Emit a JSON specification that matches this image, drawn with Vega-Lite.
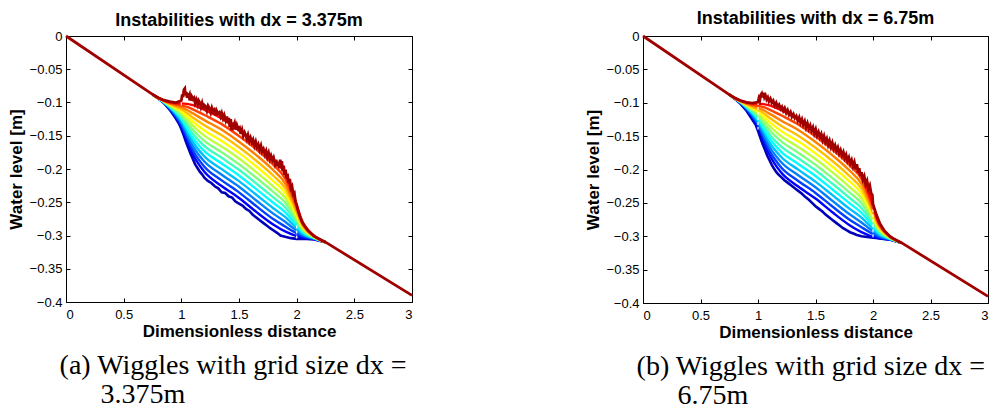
{
 "$schema": "https://vega.github.io/schema/vega-lite/v6.json",
 "background": "white",
 "padding": {"left": 6, "top": 9, "right": 0, "bottom": 0},
 "config": {
  "view": {"stroke": "#000", "strokeWidth": 1},
  "axis": {"domain": false, "grid": false, "tickColor": "#000", "tickSize": -4, "labelFont": "Liberation Sans", "labelFontSize": 13, "labelColor": "#000", "titleFont": "Liberation Sans", "titleFontSize": 17, "titleColor": "#000", "titleFontWeight": "bold"},
  "title": {"font": "Liberation Sans", "fontSize": 18, "fontWeight": "bold", "color": "#000"}
 },
 "datasets": {
  "smooth": [
   {"x":0.75,"c01":-0.0878,"c02":-0.0878,"c03":-0.0878,"c04":-0.0878,"c05":-0.0878,"c06":-0.0878,"c07":-0.0878,"c08":-0.0878,"c09":-0.0878,"c10":-0.0878,"c11":-0.0878,"c12":-0.0878,"c13":-0.0878},
   {"x":0.80,"c01":-0.0939,"c02":-0.0938,"c03":-0.0938,"c04":-0.0937,"c05":-0.0936,"c06":-0.0935,"c07":-0.0935,"c08":-0.0934,"c09":-0.0933,"c10":-0.0932,"c11":-0.0932,"c12":-0.0931,"c13":-0.093},
   {"x":0.85,"c01":-0.1007,"c02":-0.1004,"c03":-0.1001,"c04":-0.0998,"c05":-0.0995,"c06":-0.0992,"c07":-0.0988,"c08":-0.0985,"c09":-0.0982,"c10":-0.0979,"c11":-0.0976,"c12":-0.0973,"c13":-0.097},
   {"x":0.90,"c01":-0.1101,"c02":-0.1092,"c03":-0.1083,"c04":-0.1075,"c05":-0.1066,"c06":-0.1057,"c07":-0.1048,"c08":-0.1039,"c09":-0.103,"c10":-0.1022,"c11":-0.1013,"c12":-0.1004,"c13":-0.0995},
   {"x":0.95,"c01":-0.1213,"c02":-0.1196,"c03":-0.1179,"c04":-0.1162,"c05":-0.1145,"c06":-0.1128,"c07":-0.1112,"c08":-0.1095,"c09":-0.1078,"c10":-0.1061,"c11":-0.1044,"c12":-0.1027,"c13":-0.101},
   {"x":1.00,"c01":-0.1361,"c02":-0.1332,"c03":-0.1303,"c04":-0.1275,"c05":-0.1246,"c06":-0.1217,"c07":-0.1188,"c08":-0.1159,"c09":-0.113,"c10":-0.1102,"c11":-0.1073,"c12":-0.1044,"c13":-0.1015},
   {"x":1.05,"c01":-0.1574,"c02":-0.1528,"c03":-0.1482,"c04":-0.1435,"c05":-0.1389,"c06":-0.1343,"c07":-0.1297,"c08":-0.1251,"c09":-0.1205,"c10":-0.1158,"c11":-0.1112,"c12":-0.1066,"c13":-0.102},
   {"x":1.10,"c01":-0.1778,"c02":-0.1717,"c03":-0.1655,"c04":-0.1594,"c05":-0.1532,"c06":-0.1471,"c07":-0.1409,"c08":-0.1348,"c09":-0.1286,"c10":-0.1225,"c11":-0.1163,"c12":-0.1102,"c13":-0.104},
   {"x":1.20,"c01":-0.2042,"c02":-0.1965,"c03":-0.1887,"c04":-0.1809,"c05":-0.1732,"c06":-0.1654,"c07":-0.1576,"c08":-0.1498,"c09":-0.1421,"c10":-0.1343,"c11":-0.1265,"c12":-0.1188,"c13":-0.111},
   {"x":1.35,"c01":-0.2255,"c02":-0.2171,"c03":-0.2086,"c04":-0.2002,"c05":-0.1917,"c06":-0.1832,"c07":-0.1748,"c08":-0.1663,"c09":-0.1578,"c10":-0.1494,"c11":-0.1409,"c12":-0.1325,"c13":-0.124},
   {"x":1.50,"c01":-0.2435,"c02":-0.2351,"c03":-0.2266,"c04":-0.2182,"c05":-0.2097,"c06":-0.2012,"c07":-0.1928,"c08":-0.1843,"c09":-0.1758,"c10":-0.1674,"c11":-0.1589,"c12":-0.1505,"c13":-0.142},
   {"x":1.65,"c01":-0.2645,"c02":-0.2559,"c03":-0.2474,"c04":-0.2388,"c05":-0.2303,"c06":-0.2218,"c07":-0.2132,"c08":-0.2047,"c09":-0.1962,"c10":-0.1876,"c11":-0.1791,"c12":-0.1705,"c13":-0.162},
   {"x":1.80,"c01":-0.2838,"c02":-0.2757,"c03":-0.2675,"c04":-0.2594,"c05":-0.2512,"c06":-0.2431,"c07":-0.2349,"c08":-0.2268,"c09":-0.2186,"c10":-0.2105,"c11":-0.2023,"c12":-0.1942,"c13":-0.186},
   {"x":1.90,"c01":-0.2938,"c02":-0.2865,"c03":-0.2793,"c04":-0.2721,"c05":-0.2648,"c06":-0.2576,"c07":-0.2504,"c08":-0.2432,"c09":-0.2359,"c10":-0.2287,"c11":-0.2215,"c12":-0.2142,"c13":-0.207},
   {"x":1.97,"c01":-0.2989,"c02":-0.2938,"c03":-0.2888,"c04":-0.2837,"c05":-0.2786,"c06":-0.2735,"c07":-0.2685,"c08":-0.2634,"c09":-0.2583,"c10":-0.2532,"c11":-0.2482,"c12":-0.2431,"c13":-0.238},
   {"x":2.05,"c01":-0.303,"c02":-0.301,"c03":-0.299,"c04":-0.297,"c05":-0.295,"c06":-0.293,"c07":-0.291,"c08":-0.289,"c09":-0.287,"c10":-0.285,"c11":-0.283,"c12":-0.281,"c13":-0.279},
   {"x":2.15,"c01":-0.3055,"c02":-0.3051,"c03":-0.3046,"c04":-0.3042,"c05":-0.3037,"c06":-0.3032,"c07":-0.3028,"c08":-0.3023,"c09":-0.3018,"c10":-0.3014,"c11":-0.3009,"c12":-0.3005,"c13":-0.300},
   {"x":2.25,"c01":-0.310,"c02":-0.310,"c03":-0.310,"c04":-0.310,"c05":-0.310,"c06":-0.310,"c07":-0.310,"c08":-0.310,"c09":-0.310,"c10":-0.310,"c11":-0.310,"c12":-0.310,"c13":-0.310}
  ],
  "blueA": [
   {"x":0.75,"y":-0.0878},{"x":0.80,"y":-0.0940},{"x":0.85,"y":-0.1010},{"x":0.90,"y":-0.1110},{"x":0.95,"y":-0.1235},{"x":0.98,"y":-0.1320},{"x":1.00,"y":-0.1400},{"x":1.02,"y":-0.1490},{"x":1.04,"y":-0.1590},{"x":1.06,"y":-0.1680},{"x":1.08,"y":-0.1770},{"x":1.10,"y":-0.1850},{"x":1.12,"y":-0.1930},{"x":1.14,"y":-0.1985},{"x":1.16,"y":-0.2040},{"x":1.18,"y":-0.2080},{"x":1.20,"y":-0.2130},{"x":1.23,"y":-0.2180},{"x":1.26,"y":-0.2210},{"x":1.29,"y":-0.2260},{"x":1.32,"y":-0.2290},{"x":1.35,"y":-0.2350},{"x":1.38,"y":-0.2360},{"x":1.41,"y":-0.2410},{"x":1.44,"y":-0.2430},{"x":1.47,"y":-0.2490},{"x":1.50,"y":-0.2520},{"x":1.53,"y":-0.2550},{"x":1.56,"y":-0.2600},{"x":1.59,"y":-0.2630},{"x":1.62,"y":-0.2690},{"x":1.65,"y":-0.2730},{"x":1.68,"y":-0.2770},{"x":1.71,"y":-0.2810},{"x":1.74,"y":-0.2850},{"x":1.77,"y":-0.2890},{"x":1.80,"y":-0.2925},{"x":1.83,"y":-0.2960},{"x":1.86,"y":-0.3000},{"x":1.90,"y":-0.3020},{"x":1.95,"y":-0.3040},{"x":2.00,"y":-0.3050},{"x":2.05,"y":-0.3050},{"x":2.15,"y":-0.3060},{"x":2.25,"y":-0.3100}
  ],
  "redA": [
   {"x":0,"y":0},{"x":0.75,"y":-0.0878},{"x":0.80,"y":-0.0928},{"x":0.85,"y":-0.0965},{"x":0.90,"y":-0.0988},{"x":0.95,"y":-0.1003},{"x":1.000,"y":-0.097},{"x":1.008,"y":-0.088},{"x":1.015,"y":-0.092},{"x":1.022,"y":-0.081},{"x":1.030,"y":-0.079},{"x":1.036,"y":-0.089},{"x":1.043,"y":-0.084},{"x":1.050,"y":-0.093},{"x":1.058,"y":-0.086},{"x":1.065,"y":-0.091},{"x":1.072,"y":-0.088},{"x":1.080,"y":-0.097},{"x":1.090,"y":-0.091},{"x":1.100,"y":-0.095},{"x":1.110,"y":-0.093},{"x":1.120,"y":-0.101},{"x":1.130,"y":-0.096},{"x":1.142,"y":-0.103},{"x":1.150,"y":-0.097},{"x":1.160,"y":-0.100},{"x":1.170,"y":-0.107},{"x":1.180,"y":-0.101},{"x":1.192,"y":-0.110},{"x":1.200,"y":-0.104},{"x":1.212,"y":-0.106},{"x":1.222,"y":-0.112},{"x":1.232,"y":-0.105},{"x":1.245,"y":-0.109},{"x":1.255,"y":-0.115},{"x":1.265,"y":-0.108},{"x":1.275,"y":-0.113},{"x":1.285,"y":-0.111},{"x":1.295,"y":-0.119},{"x":1.305,"y":-0.112},{"x":1.318,"y":-0.117},{"x":1.330,"y":-0.115},{"x":1.340,"y":-0.121},{"x":1.350,"y":-0.116},{"x":1.362,"y":-0.124},{"x":1.372,"y":-0.119},{"x":1.385,"y":-0.127},{"x":1.395,"y":-0.121},{"x":1.405,"y":-0.130},{"x":1.412,"y":-0.123},{"x":1.420,"y":-0.137},{"x":1.428,"y":-0.125},{"x":1.436,"y":-0.142},{"x":1.444,"y":-0.130},{"x":1.452,"y":-0.136},{"x":1.462,"y":-0.131},{"x":1.472,"y":-0.141},{"x":1.482,"y":-0.134},{"x":1.494,"y":-0.140},{"x":1.505,"y":-0.138},{"x":1.515,"y":-0.147},{"x":1.526,"y":-0.141},{"x":1.537,"y":-0.150},{"x":1.548,"y":-0.145},{"x":1.558,"y":-0.149},{"x":1.568,"y":-0.155},{"x":1.578,"y":-0.149},{"x":1.590,"y":-0.158},{"x":1.600,"y":-0.153},{"x":1.612,"y":-0.160},{"x":1.622,"y":-0.156},{"x":1.634,"y":-0.165},{"x":1.645,"y":-0.159},{"x":1.656,"y":-0.167},{"x":1.667,"y":-0.163},{"x":1.678,"y":-0.171},{"x":1.690,"y":-0.165},{"x":1.700,"y":-0.174},{"x":1.712,"y":-0.170},{"x":1.724,"y":-0.178},{"x":1.735,"y":-0.173},{"x":1.746,"y":-0.182},{"x":1.757,"y":-0.176},{"x":1.768,"y":-0.185},{"x":1.778,"y":-0.180},{"x":1.790,"y":-0.187},{"x":1.800,"y":-0.183},{"x":1.812,"y":-0.192},{"x":1.822,"y":-0.186},{"x":1.832,"y":-0.196},{"x":1.842,"y":-0.189},{"x":1.850,"y":-0.199},{"x":1.857,"y":-0.186},{"x":1.864,"y":-0.194},{"x":1.871,"y":-0.188},{"x":1.879,"y":-0.203},{"x":1.887,"y":-0.195},{"x":1.895,"y":-0.209},{"x":1.903,"y":-0.201},{"x":1.912,"y":-0.214},{"x":1.920,"y":-0.207},{"x":1.930,"y":-0.221},{"x":1.940,"y":-0.215},{"x":1.950,"y":-0.229},{"x":1.960,"y":-0.226},{"x":1.970,"y":-0.238},{"x":1.980,"y":-0.236},{"x":1.990,"y":-0.249},{"x":2.000,"y":-0.254},{"x":2.015,"y":-0.264},{"x":2.030,"y":-0.272},{"x":2.050,"y":-0.281},{"x":2.100,"y":-0.293},{"x":2.150,"y":-0.301},{"x":2.250,"y":-0.310},{"x":3.000,"y":-0.390}
  ],
  "blueB": [
   {"x":0.75,"y":-0.0878},{"x":0.80,"y":-0.0945},{"x":0.85,"y":-0.1020},{"x":0.90,"y":-0.1120},{"x":0.95,"y":-0.1250},{"x":0.98,"y":-0.1330},{"x":1.00,"y":-0.1420},{"x":1.02,"y":-0.1520},{"x":1.04,"y":-0.1620},{"x":1.06,"y":-0.1700},{"x":1.08,"y":-0.1790},{"x":1.10,"y":-0.1860},{"x":1.12,"y":-0.1930},{"x":1.14,"y":-0.1990},{"x":1.16,"y":-0.2040},{"x":1.18,"y":-0.2080},{"x":1.20,"y":-0.2110},{"x":1.23,"y":-0.2160},{"x":1.26,"y":-0.2200},{"x":1.29,"y":-0.2240},{"x":1.32,"y":-0.2280},{"x":1.35,"y":-0.2320},{"x":1.38,"y":-0.2360},{"x":1.41,"y":-0.2410},{"x":1.44,"y":-0.2450},{"x":1.47,"y":-0.2500},{"x":1.50,"y":-0.2550},{"x":1.53,"y":-0.2590},{"x":1.56,"y":-0.2630},{"x":1.59,"y":-0.2680},{"x":1.62,"y":-0.2720},{"x":1.65,"y":-0.2760},{"x":1.68,"y":-0.2800},{"x":1.71,"y":-0.2840},{"x":1.74,"y":-0.2880},{"x":1.77,"y":-0.2910},{"x":1.80,"y":-0.2940},{"x":1.83,"y":-0.2960},{"x":1.86,"y":-0.2980},{"x":1.90,"y":-0.3000},{"x":1.95,"y":-0.3010},{"x":2.00,"y":-0.3020},{"x":2.05,"y":-0.3030},{"x":2.15,"y":-0.3050},{"x":2.25,"y":-0.3100}
  ],
  "redB": [
   {"x":0,"y":0},{"x":0.75,"y":-0.0878},{"x":0.80,"y":-0.0930},{"x":0.85,"y":-0.0970},{"x":0.90,"y":-0.0995},{"x":0.95,"y":-0.1005},{"x":1.000,"y":-0.099},{"x":1.008,"y":-0.093},{"x":1.016,"y":-0.096},{"x":1.024,"y":-0.088},{"x":1.032,"y":-0.086},{"x":1.040,"y":-0.092},{"x":1.048,"y":-0.085},{"x":1.056,"y":-0.092},{"x":1.065,"y":-0.089},{"x":1.075,"y":-0.095},{"x":1.085,"y":-0.092},{"x":1.095,"y":-0.098},{"x":1.108,"y":-0.094},{"x":1.120,"y":-0.100},{"x":1.132,"y":-0.097},{"x":1.145,"y":-0.104},{"x":1.158,"y":-0.100},{"x":1.170,"y":-0.106},{"x":1.183,"y":-0.103},{"x":1.196,"y":-0.109},{"x":1.208,"y":-0.106},{"x":1.220,"y":-0.112},{"x":1.232,"y":-0.108},{"x":1.245,"y":-0.115},{"x":1.257,"y":-0.111},{"x":1.270,"y":-0.118},{"x":1.283,"y":-0.114},{"x":1.295,"y":-0.121},{"x":1.308,"y":-0.117},{"x":1.320,"y":-0.123},{"x":1.333,"y":-0.120},{"x":1.346,"y":-0.127},{"x":1.358,"y":-0.122},{"x":1.370,"y":-0.130},{"x":1.382,"y":-0.125},{"x":1.394,"y":-0.133},{"x":1.406,"y":-0.128},{"x":1.418,"y":-0.137},{"x":1.430,"y":-0.131},{"x":1.442,"y":-0.139},{"x":1.454,"y":-0.134},{"x":1.466,"y":-0.142},{"x":1.478,"y":-0.137},{"x":1.490,"y":-0.146},{"x":1.502,"y":-0.140},{"x":1.514,"y":-0.149},{"x":1.526,"y":-0.144},{"x":1.538,"y":-0.152},{"x":1.550,"y":-0.147},{"x":1.562,"y":-0.156},{"x":1.574,"y":-0.150},{"x":1.586,"y":-0.159},{"x":1.598,"y":-0.154},{"x":1.610,"y":-0.163},{"x":1.622,"y":-0.157},{"x":1.634,"y":-0.166},{"x":1.646,"y":-0.160},{"x":1.658,"y":-0.169},{"x":1.670,"y":-0.164},{"x":1.682,"y":-0.172},{"x":1.694,"y":-0.167},{"x":1.706,"y":-0.176},{"x":1.718,"y":-0.171},{"x":1.730,"y":-0.179},{"x":1.742,"y":-0.174},{"x":1.754,"y":-0.183},{"x":1.766,"y":-0.178},{"x":1.778,"y":-0.187},{"x":1.790,"y":-0.182},{"x":1.802,"y":-0.191},{"x":1.814,"y":-0.186},{"x":1.826,"y":-0.195},{"x":1.838,"y":-0.189},{"x":1.850,"y":-0.200},{"x":1.860,"y":-0.192},{"x":1.870,"y":-0.205},{"x":1.880,"y":-0.198},{"x":1.890,"y":-0.210},{"x":1.900,"y":-0.204},{"x":1.912,"y":-0.215},{"x":1.924,"y":-0.210},{"x":1.936,"y":-0.222},{"x":1.948,"y":-0.217},{"x":1.960,"y":-0.229},{"x":1.972,"y":-0.224},{"x":1.984,"y":-0.236},{"x":1.994,"y":-0.238},{"x":2.000,"y":-0.252},{"x":2.030,"y":-0.268},{"x":2.060,"y":-0.281},{"x":2.100,"y":-0.292},{"x":2.150,"y":-0.301},{"x":2.250,"y":-0.310},{"x":3.000,"y":-0.390}
  ],
  "dashA": [{"x":1,"y":-0.092,"y2":-0.104},{"x":2,"y":-0.285,"y2":-0.305}],
  "dashB": [{"x":1,"y":-0.099,"y2":-0.140},{"x":2,"y":-0.252,"y2":-0.302}]
 },
 "spacing": 164,
 "hconcat": [
  {
   "title": {"text": "3.375m", "orient": "bottom", "anchor": "start", "font": "Liberation Serif", "fontSize": 28, "fontWeight": "normal", "dx": 94, "offset": 1},
   "vconcat": [
    {
     "title": {"text": "(a) Wiggles with grid size dx =", "orient": "bottom", "anchor": "start", "font": "Liberation Serif", "fontSize": 28, "fontWeight": "normal", "dx": 53, "offset": 12},
     "vconcat": [
      {
       "title": {"text": "Instabilities with dx = 3.375m", "offset": 0},
       "width": 346, "height": 266,
       "layer": [
        {"data": {"name": "blueA"}, "mark": {"type": "line", "color": "#0000b8", "strokeWidth": 2.6},
         "encoding": {
          "x": {"field": "x", "type": "quantitative", "scale": {"domain": [0, 3], "nice": false, "zero": false}, "axis": {"values": [0, 0.5, 1, 1.5, 2, 2.5, 3], "format": "~g", "title": "Dimensionless distance", "labelPadding": 10, "titlePadding": 2}},
          "y": {"field": "y", "type": "quantitative", "scale": {"domain": [-0.4, 0], "nice": false, "zero": false}, "axis": {"values": [0, -0.05, -0.1, -0.15, -0.2, -0.25, -0.3, -0.35, -0.4], "format": "~g", "title": "Water level [m]", "labelPadding": 8, "titlePadding": 4}}
         }},
        {"data": {"name": "smooth"}, "transform": [{"fold": ["c01","c02","c03","c04","c05","c06","c07","c08","c09","c10","c11","c12","c13"], "as": ["curve", "y"]}],
         "mark": {"type": "line", "strokeWidth": 2.4, "interpolate": "monotone"},
         "encoding": {
          "x": {"field": "x", "type": "quantitative", "axis": null},
          "y": {"field": "y", "type": "quantitative", "axis": null},
          "color": {"field": "curve", "type": "nominal", "legend": null, "scale": {"domain": ["c01","c02","c03","c04","c05","c06","c07","c08","c09","c10","c11","c12","c13"], "range": ["#0000ff","#0040ff","#0080ff","#00bfff","#00ffff","#40ffbf","#80ff80","#bfff40","#ffff00","#ffbf00","#ff8000","#ff4000","#ff0000"]}}
         }},
        {"data": {"name": "dashA"}, "mark": {"type": "rule", "color": "#ffffff", "strokeWidth": 1.2, "strokeDash": [3, 2]},
         "encoding": {"x": {"field": "x", "type": "quantitative", "axis": null}, "y": {"field": "y", "type": "quantitative", "axis": null}, "y2": {"field": "y2"}}},
        {"data": {"name": "redA"}, "mark": {"type": "line", "color": "#a00000", "strokeWidth": 2.8},
         "encoding": {
          "x": {"field": "x", "type": "quantitative", "axis": {"orient": "top", "values": [0, 0.5, 1, 1.5, 2, 2.5, 3], "labels": false, "title": null}},
          "y": {"field": "y", "type": "quantitative", "axis": {"orient": "right", "values": [0, -0.05, -0.1, -0.15, -0.2, -0.25, -0.3, -0.35, -0.4], "labels": false, "title": null}}
         }}
       ],
       "resolve": {"axis": {"x": "independent", "y": "independent"}}
      }
     ]
    }
   ]
  },
  {
   "title": {"text": "6.75m", "orient": "bottom", "anchor": "start", "font": "Liberation Serif", "fontSize": 28, "fontWeight": "normal", "dx": 94, "offset": 1},
   "vconcat": [
    {
     "title": {"text": "(b) Wiggles with grid size dx =", "orient": "bottom", "anchor": "start", "font": "Liberation Serif", "fontSize": 28, "fontWeight": "normal", "dx": 53, "offset": 12},
     "vconcat": [
      {
       "title": {"text": "Instabilities with dx = 6.75m", "offset": 2},
       "width": 345, "height": 267,
       "layer": [
        {"data": {"name": "blueB"}, "mark": {"type": "line", "color": "#0000b8", "strokeWidth": 2.6},
         "encoding": {
          "x": {"field": "x", "type": "quantitative", "scale": {"domain": [0, 3], "nice": false, "zero": false}, "axis": {"values": [0, 0.5, 1, 1.5, 2, 2.5, 3], "format": "~g", "title": "Dimensionless distance", "labelPadding": 10, "titlePadding": 2}},
          "y": {"field": "y", "type": "quantitative", "scale": {"domain": [-0.4, 0], "nice": false, "zero": false}, "axis": {"values": [0, -0.05, -0.1, -0.15, -0.2, -0.25, -0.3, -0.35, -0.4], "format": "~g", "title": "Water level [m]", "labelPadding": 8, "titlePadding": 4}}
         }},
        {"data": {"name": "smooth"}, "transform": [{"fold": ["c01","c02","c03","c04","c05","c06","c07","c08","c09","c10","c11","c12","c13"], "as": ["curve", "y"]}],
         "mark": {"type": "line", "strokeWidth": 2.4, "interpolate": "monotone"},
         "encoding": {
          "x": {"field": "x", "type": "quantitative", "axis": null},
          "y": {"field": "y", "type": "quantitative", "axis": null},
          "color": {"field": "curve", "type": "nominal", "legend": null, "scale": {"domain": ["c01","c02","c03","c04","c05","c06","c07","c08","c09","c10","c11","c12","c13"], "range": ["#0000ff","#0040ff","#0080ff","#00bfff","#00ffff","#40ffbf","#80ff80","#bfff40","#ffff00","#ffbf00","#ff8000","#ff4000","#ff0000"]}}
         }},
        {"data": {"name": "dashB"}, "mark": {"type": "rule", "color": "#ffffff", "strokeWidth": 1.2, "strokeDash": [3, 2]},
         "encoding": {"x": {"field": "x", "type": "quantitative", "axis": null}, "y": {"field": "y", "type": "quantitative", "axis": null}, "y2": {"field": "y2"}}},
        {"data": {"name": "redB"}, "mark": {"type": "line", "color": "#a00000", "strokeWidth": 2.8},
         "encoding": {
          "x": {"field": "x", "type": "quantitative", "axis": {"orient": "top", "values": [0, 0.5, 1, 1.5, 2, 2.5, 3], "labels": false, "title": null}},
          "y": {"field": "y", "type": "quantitative", "axis": {"orient": "right", "values": [0, -0.05, -0.1, -0.15, -0.2, -0.25, -0.3, -0.35, -0.4], "labels": false, "title": null}}
         }}
       ],
       "resolve": {"axis": {"x": "independent", "y": "independent"}}
      }
     ]
    }
   ]
  }
 ]
}
